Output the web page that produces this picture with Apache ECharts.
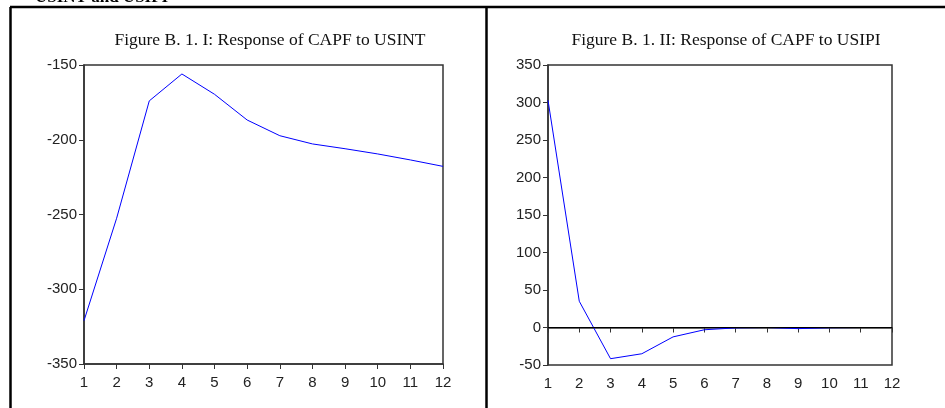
<!DOCTYPE html>
<html lang="en">
<head>
	<meta charset="UTF-8">
	<title>Response of CAPF</title>
	<script src="https://cdn.jsdelivr.net/npm/echarts@6/dist/echarts.min.js"></script>
	<style>
		html, body { margin: 0; padding: 0; background: #fff; }
		#main { width: 945px; height: 408px; }
	</style>
</head>
<body>
	<div id="main"></div>
<script type="text/javascript">
// periods on the x axis
var periods = [1, 2, 3, 4, 5, 6, 7, 8, 9, 10, 11, 12];
// response of CAPF to USINT
var usintResp = [-321, -252.5, -174, -156, -169.6, -186.8, -197.3, -202.8, -206, -209.5, -213.5, -217.8];
// response of CAPF to USIPI
var usipiResp = [303, 35, -41.6, -35, -12.5, -3, -0.5, 0, -1.5, -0.3, 0, 0];

var titleLeft = 'Figure B. 1. I: Response of CAPF to USINT';
var titleRight = 'Figure B. 1. II: Response of CAPF to USIPI';

function pairs(xs, ys) {
	var out = [];
	for (var i = 0; i < xs.length; i++) {
		out.push([xs[i], ys[i]]);
	}
	return out;
}

var labelFont = { fontFamily: 'Liberation Sans', fontSize: 15, color: '#222' };

function xAxisFor(idx) {
	return {
		gridIndex: idx, type: 'value', min: 1, max: 12, interval: 1,
		axisLine: { show: true, lineStyle: { color: '#333', width: 1.5 } },
		axisTick: { show: true, inside: false, length: 5, lineStyle: { color: '#333' } },
		axisLabel: Object.assign({ margin: 11 }, labelFont),
		splitLine: { show: false }
	};
}
function yAxisFor(idx, min, max) {
	return {
		gridIndex: idx, type: 'value', min: min, max: max, interval: 50,
		axisLine: { show: true, lineStyle: { color: '#333', width: 1.5 } },
		axisTick: { show: true, inside: false, length: 5, lineStyle: { color: '#333' } },
		axisLabel: Object.assign({ margin: 7 }, labelFont),
		splitLine: { show: false }
	};
}

var myChart = echarts.init(document.getElementById('main'), null, { renderer: 'canvas' });
var option = {
	animation: false,
	backgroundColor: '#fff',
	title: [
		{ text: titleLeft, left: 265, top: 26, textAlign: 'center',
		  textStyle: { fontFamily: 'Liberation Serif', fontSize: 17.5, fontWeight: 'normal', color: '#111' } },
		{ text: titleRight, left: 721, top: 26, textAlign: 'center',
		  textStyle: { fontFamily: 'Liberation Serif', fontSize: 17.5, fontWeight: 'normal', color: '#111' } }
	],
	grid: [
		{ left: 84, right: 502, top: 65, bottom: 44, show: true, borderColor: '#333', borderWidth: 1.5 },
		{ left: 548, right: 53, top: 65, bottom: 43, show: true, borderColor: '#333', borderWidth: 1.5 }
	],
	xAxis: [xAxisFor(0), xAxisFor(1)],
	yAxis: [yAxisFor(0, -350, -150), yAxisFor(1, -50, 350)],
	series: [
		{
			type: 'line', xAxisIndex: 0, yAxisIndex: 0,
			data: pairs(periods, usintResp),
			symbol: 'none', lineStyle: { color: '#0000ff', width: 1 }
		},
		{
			type: 'line', xAxisIndex: 1, yAxisIndex: 1,
			data: pairs(periods, usipiResp),
			symbol: 'none', lineStyle: { color: '#0000ff', width: 1 },
			markLine: {
				silent: true, symbol: 'none', label: { show: false },
				lineStyle: { color: '#000', width: 1, type: 'solid' },
				data: [{ yAxis: 0 }]
			}
		}
	],
	graphic: [
		// cut-off heading above the boxes
		{ type: 'text', left: 35, top: -11,
		  style: { text: 'USINT and USIPI', font: 'bold 17px "Liberation Serif"', fill: '#000' } },
		// outer frame lines
		{ type: 'line', shape: { x1: 10, y1: 7, x2: 945, y2: 7 }, style: { stroke: '#000', lineWidth: 2.5 } },
		{ type: 'line', shape: { x1: 10.5, y1: 7, x2: 10.5, y2: 408 }, style: { stroke: '#000', lineWidth: 2.5 } },
		{ type: 'line', shape: { x1: 486.5, y1: 7, x2: 486.5, y2: 408 }, style: { stroke: '#000', lineWidth: 2.5 } }
	]
};
myChart.setOption(option);
</script>
</body>
</html>
